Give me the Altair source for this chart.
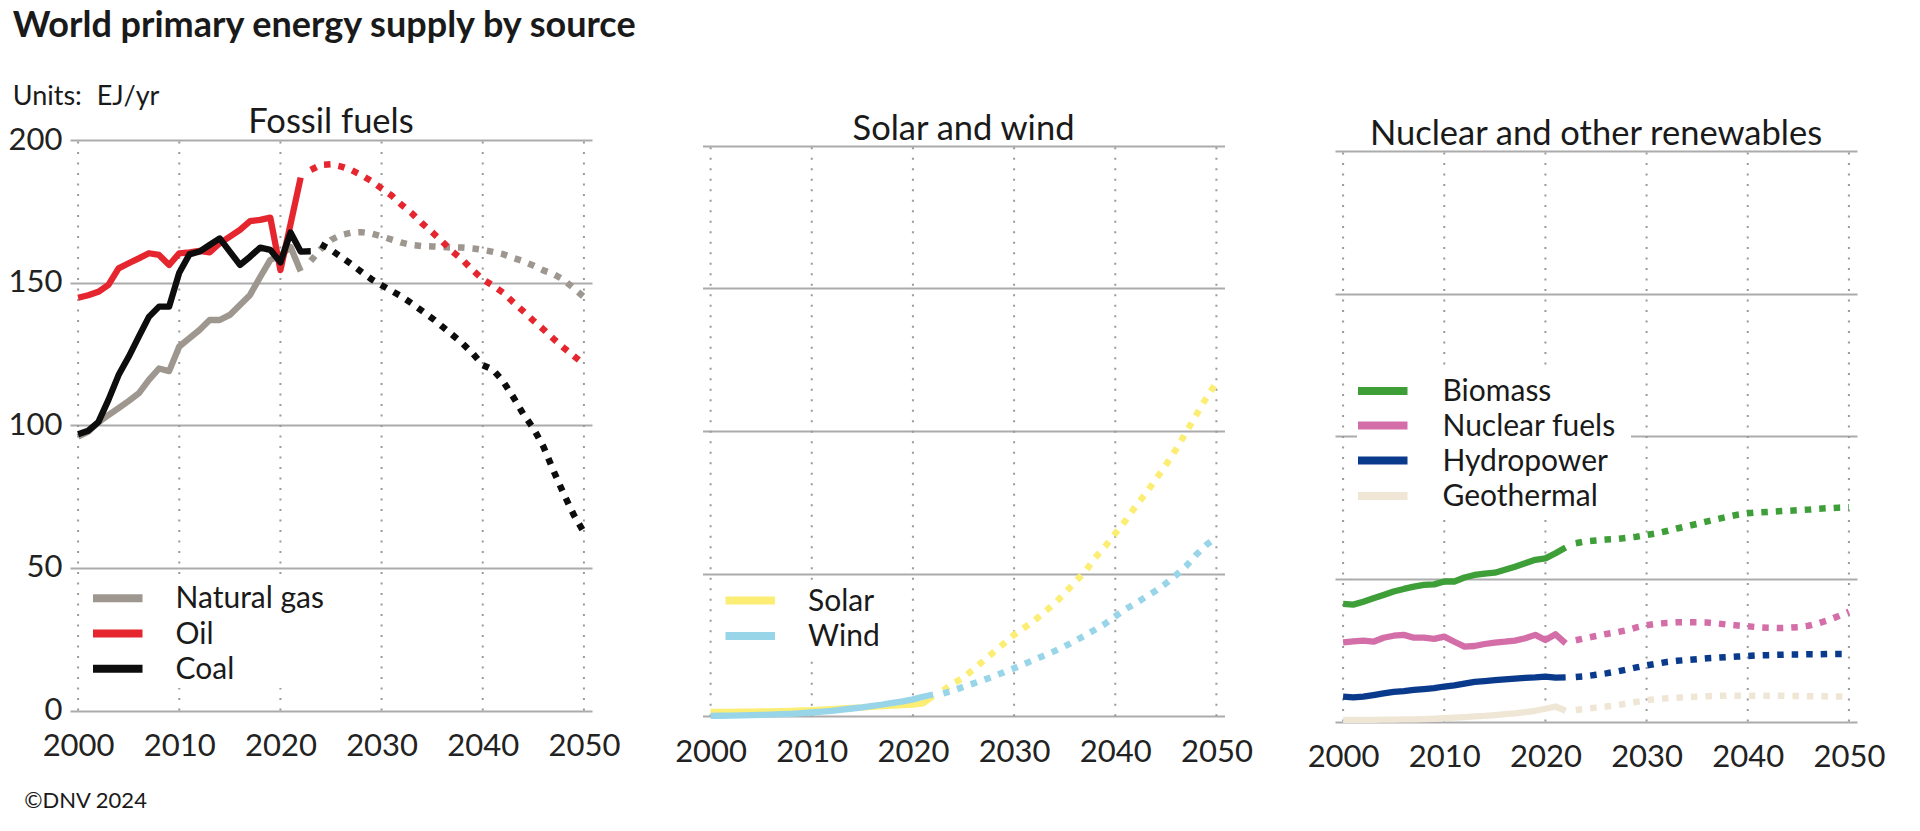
import altair as alt
import pandas as pd

FONT = "Lato"
TXT = "#1a1a1a"

# ---------------- data (EJ/yr) ----------------
years_hist = list(range(2000, 2023))          # 2000..2022
years_proj = list(range(2023, 2051))          # 2023..2050
coal_years_hist = list(range(2000, 2024))     # 2000..2023
coal_years_proj = list(range(2024, 2051))     # 2024..2050
decades = [2000, 2010, 2020, 2030, 2040, 2050]
y_ticks = [0, 50, 100, 150, 200]

gas_hist = [96, 97.8, 101, 103.6, 106, 108.5, 111.2, 115.9, 119.9, 119, 127.6, 130.5,
            133.4, 136.9, 136.9, 138.7, 142.2, 145.7, 152, 158, 159.5, 162.5, 154]
gas_proj = [157.6, 161.8, 165, 166.7, 167.5, 167.7, 167.2, 166.2, 165.1, 164, 163.2, 162.8,
            162.7, 162.5, 162.3, 162.3, 162, 161.5, 160.8, 160, 158.7, 157.5, 156, 154.3,
            153, 151, 148, 145]
oil_hist = [144.7, 145.6, 146.8, 149.2, 155, 156.8, 158.5, 160.3, 159.7, 156.2, 160.3, 160.6,
            161.1, 160.6, 163.8, 166.1, 168.5, 171.6, 172, 172.8, 154.4, 170.5, 186.8]
oil_proj = [189.5, 191.3, 191.5, 190.7, 189.5, 187.7, 185.6, 183, 180.5, 177.2, 174.3, 170.8,
            167.7, 164.4, 160.9, 158, 154.4, 151.2, 149, 146.5, 143.2, 140, 136.7, 133.6,
            130.3, 127.2, 124.3, 121.5]
coal_hist = [96.9, 98.1, 101.1, 108.9, 117.6, 124, 131.1, 138, 141.6, 141.6, 153.5, 159.9,
             160.9, 163.2, 165.5, 160.9, 156.2, 159.1, 162.3, 161.5, 157.1, 167.6, 160.9, 161]
coal_proj = [163.4, 161.5, 159, 156.5, 153.8, 151.2, 149.1, 147.1, 145.1, 142.7, 140.1, 137.5,
             134.6, 131.7, 128.7, 125.2, 121.1, 119.5, 115.5, 110, 104, 99, 92.5, 84, 76,
             68.6, 62.5]

solar_hist = [1.5, 1.5, 1.5, 1.6, 1.6, 1.7, 1.7, 1.8, 1.9, 2.0, 2.1, 2.3, 2.5, 2.7, 2.9, 3.1,
              3.3, 3.5, 3.7, 3.9, 4.1, 4.5, 7.0]
solar_proj = [9, 11.5, 13.5, 16.5, 19.5, 22.5, 25.5, 28.5, 31, 33.5, 36.5, 39.5, 43, 47, 50.5,
              55.5, 59.5, 64, 68.5, 73.5, 78, 83, 88, 93.5, 99.5, 105.5, 111.5, 117]
wind_hist = [0.1, 0.15, 0.2, 0.3, 0.35, 0.45, 0.55, 0.7, 0.85, 1.05, 1.3, 1.6, 1.9, 2.3, 2.7,
             3.1, 3.6, 4.1, 4.7, 5.2, 5.9, 6.8, 7.6]
wind_proj = [8, 9, 10.3, 11.5, 12.7, 14, 15.4, 16.8, 18.3, 19.8, 21.3, 22.8, 24.5, 26.3, 28.3,
             30.3, 32.4, 35, 37.5, 39.5, 41.8, 44, 46.5, 49.4, 52.6, 56.6, 60, 62.8]

biomass_hist = [41.3, 41, 42, 43.2, 44.4, 45.6, 46.5, 47.3, 47.9, 48.1, 49.1, 49.1, 50.5, 51.4,
                51.9, 52.2, 53.2, 54.3, 55.5, 56.7, 57.2, 59, 61]
biomass_proj = [62.5, 63.2, 63.5, 63.8, 64, 64.4, 64.8, 65.4, 66, 66.8, 67.7, 68.5, 69.3, 70.2,
                71, 71.8, 72.5, 73, 73.3, 73.5, 73.7, 73.9, 74.1, 74.3, 74.6, 74.8, 75, 75.1]
nuclear_hist = [27.8, 28.1, 28.4, 28, 29.4, 30.1, 30.4, 29.4, 29.4, 29, 29.8, 28, 26.3, 26.5,
                27.2, 27.7, 28, 28.4, 29.2, 30.4, 28.6, 30.6, 27.4]
nuclear_proj = [28.5, 29.3, 30, 30.7, 31.3, 32, 33, 33.8, 34.3, 34.6, 34.8, 34.8, 34.8, 34.7,
                34.4, 34, 33.7, 33.4, 33.1, 32.9, 32.8, 32.9, 33.1, 33.6, 34.5, 35.6, 37, 38.5]
hydro_hist = [8.75, 8.5, 8.75, 9.3, 9.9, 10.4, 10.7, 11.1, 11.4, 11.7, 12.3, 12.7, 13.3, 13.9,
              14.2, 14.5, 14.8, 15.1, 15.3, 15.5, 15.8, 15.4, 15.5]
hydro_proj = [15.6, 15.9, 16.4, 16.9, 17.5, 18.2, 19, 19.7, 20.3, 20.9, 21.3, 21.6, 21.9, 22.2,
              22.4, 22.6, 22.8, 23, 23.2, 23.3, 23.4, 23.5, 23.5, 23.6, 23.6, 23.7, 23.7, 23.7]
geo_hist = [0.6, 0.6, 0.6, 0.6, 0.7, 0.7, 0.8, 0.8, 0.9, 1.0, 1.2, 1.4, 1.6, 1.8, 2.0, 2.3,
            2.6, 2.9, 3.3, 3.8, 4.5, 5.3, 3.8]
geo_proj = [4.1, 4.5, 4.9, 5.3, 5.7, 6.3, 6.9, 7.5, 7.9, 8.2, 8.4, 8.6, 8.75, 8.9, 9, 9.1, 9.1,
            9.1, 9.1, 9.1, 9.1, 9.0, 9.0, 8.9, 8.9, 8.8, 8.8, 8.7]

panel_titles = ["Fossil fuels", "Solar and wind", "Nuclear and other renewables"]

fossil = [  # name, colour, hist years, hist, proj years, proj
    ("Natural gas", "#9d978f", years_hist, gas_hist, years_proj, gas_proj),
    ("Oil", "#e5262e", years_hist, oil_hist, years_proj, oil_proj),
    ("Coal", "#0d0d0d", coal_years_hist, coal_hist, coal_years_proj, coal_proj),
]
solarwind = [
    ("Solar", "#fcee74", years_hist, solar_hist, years_proj, solar_proj),
    ("Wind", "#98d5e9", years_hist, wind_hist, years_proj, wind_proj),
]
other = [
    ("Biomass", "#3e9f38", years_hist, biomass_hist, years_proj, biomass_proj),
    ("Nuclear fuels", "#d46ea8", years_hist, nuclear_hist, years_proj, nuclear_proj),
    ("Hydropower", "#0a3a8c", years_hist, hydro_hist, years_proj, hydro_proj),
    ("Geothermal", "#efe6d6", years_hist, geo_hist, years_proj, geo_proj),
]

# ---------------- helpers ----------------
W = 522
XDOM = [1999.2, 2050.8]
TICK_FS = 31
LEG_FS = 30
TITLE_FS = 34.5


def text_layer(txt, x, y, size, weight="normal", align="left", baseline="alphabetic"):
    return alt.Chart(pd.DataFrame({"t": [txt]})).mark_text(
        font=FONT, fontSize=size, fontWeight=weight, align=align,
        baseline=baseline, color=TXT
    ).encode(text="t:N", x=alt.value(x), y=alt.value(y))


def make_panel(series, title, height, ymax, title_y, leg_rows, leg_box, text_x, show_labels, extra=()):
    xs = alt.Scale(domain=XDOM, nice=False, zero=False)
    ys = alt.Scale(domain=[0, ymax], nice=False, zero=False)
    xa = alt.Axis(values=decades, format="d", title=None, grid=False, domain=False, ticks=False,
                  tickSize=0, labelFont=FONT, labelFontSize=TICK_FS, labelColor="#222222",
                  labelPadding=36, labelBaseline="middle", labelFlush=False, labelOverlap=False)
    ya = alt.Axis(values=y_ticks, title=None, grid=True, gridColor="#ababab", gridWidth=1.8,
                  domain=False, ticks=False, tickSize=0, labels=show_labels, labelFont=FONT,
                  labelFontSize=TICK_FS, labelColor="#222222", labelPadding=8)

    layers = []
    vgrid = pd.DataFrame({"year": decades, "lo": [0] * len(decades), "hi": [200] * len(decades)})
    layers.append(alt.Chart(vgrid).mark_rule(color="#9a9a9a", strokeWidth=2, strokeDash=[2, 8.5]).encode(
        x=alt.X("year:Q", scale=xs, axis=xa), y=alt.Y("lo:Q", scale=ys, axis=ya), y2="hi:Q"))

    # legend background + entries
    bx0, bx1, by0, by1 = leg_box
    layers.append(alt.Chart(pd.DataFrame({"b": [1]})).mark_rect(color="white").encode(
        x=alt.value(bx0), x2=alt.value(bx1), y=alt.value(by0), y2=alt.value(by1)))
    for (name, col, *_), ry in zip(series, leg_rows):
        layers.append(alt.Chart(pd.DataFrame({"s": [name]})).mark_rule(color=col, strokeWidth=8).encode(
            x=alt.value(23), x2=alt.value(72.5), y=alt.value(ry)))
        layers.append(text_layer(name, text_x, ry + 1, LEG_FS, baseline="middle"))

    # data lines
    for name, col, yh, vh, yp, vp in series:
        dh = pd.DataFrame({"year": yh, "value": vh})
        dp = pd.DataFrame({"year": yp, "value": vp})
        layers.append(alt.Chart(dh).mark_line(color=col, strokeWidth=6.3, strokeJoin="round").encode(
            x=alt.X("year:Q", scale=xs, axis=xa), y=alt.Y("value:Q", scale=ys, axis=ya)))
        layers.append(alt.Chart(dp).mark_line(color=col, strokeWidth=6.5, strokeCap="butt",
                                              strokeDash=[6.5, 8]).encode(
            x=alt.X("year:Q", scale=xs, axis=xa), y=alt.Y("value:Q", scale=ys, axis=ya)))

    layers.append(text_layer(title, W / 2, title_y, TITLE_FS, align="center"))
    layers.extend(extra)
    return alt.layer(*layers).properties(width=W, height=height)


extra1 = [
    text_layer("World primary energy supply by source", -57.3, -103, 36, weight="bold"),
    text_layer("Units:", -57.3, -35, 27),
    text_layer("EJ/yr", 26.7, -35, 27),
    text_layer("\u00a9DNV 2024", -45.7, 668.3, 22),
]

p1 = make_panel(fossil, panel_titles[0], 570.6, 200, -6.7,
                [458.3, 493.6, 528.8], (22, 262, 439, 548), 105.5, True, extra1)
p2 = make_panel(solarwind, panel_titles[1], 576.2, 201.96, 0,
                [460.6, 496], (22, 186, 441, 515), 105.5, False)
p3 = make_panel(other, panel_titles[2], 581.6, 203.86, 5,
                [251, 285.6, 320.6, 356], (22, 296, 232, 375), 107.5, False)

chart = alt.hconcat(p1, p2, p3, spacing=110.5, bounds="flush").properties(
    padding=0
).configure_view(stroke=None)

chart.save("out.html", embed_options={"renderer": "svg", "actions": False})
